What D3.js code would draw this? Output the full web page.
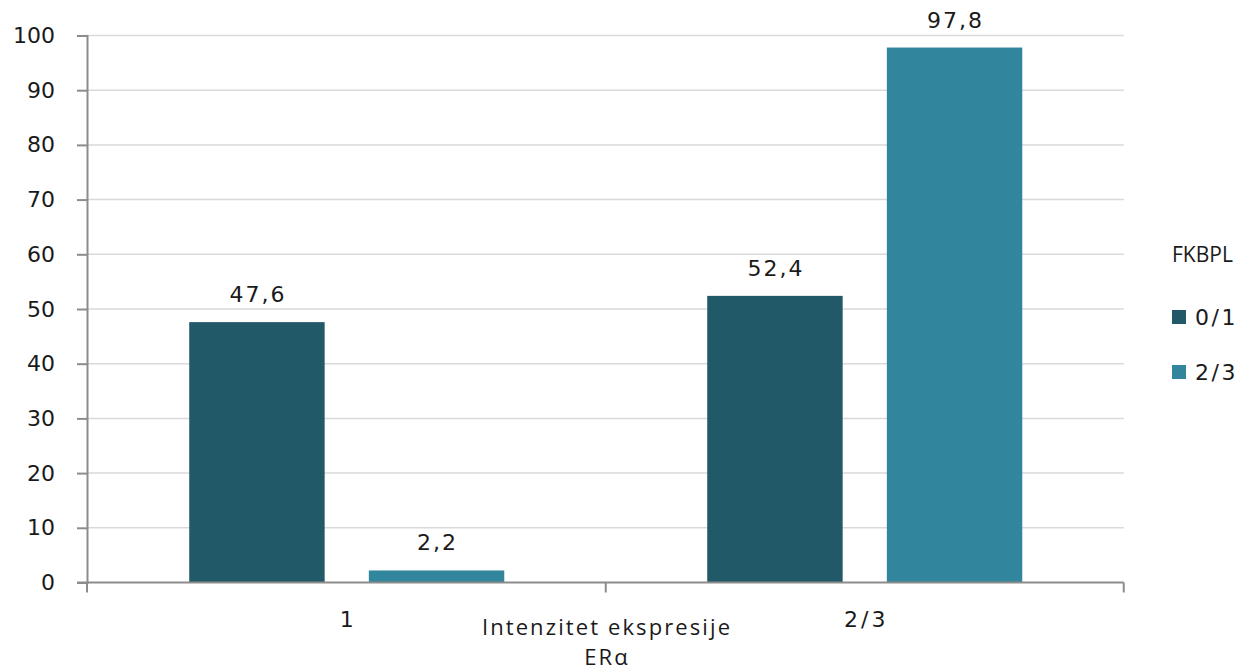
<!DOCTYPE html>
<html>
<head>
<meta charset="utf-8">
<script src="https://cdn.jsdelivr.net/npm/d3@7"></script>
<style>
  html, body { margin: 0; padding: 0; background: #fff; }
  svg text { fill: #1a1a1a; }
</style>
</head>
<body>
<svg id="chart" width="1250" height="670"></svg>
<script>
// Share of FKBPL expression groups by ERα expression intensity (%)
const categories = ["1", "2/3"];
const seriesNames = ["0/1", "2/3"];
const series01 = [47.6, 52.4];
const series23 = [2.2, 97.8];
const yTicks = [0, 10, 20, 30, 40, 50, 60, 70, 80, 90, 100];
const colors = ["#225968", "#31859c"];
const axisTitle = ["Intenzitet ekspresije", "ERα"];
const legendTitle = "FKBPL";

const seriesValues = [series01, series23];

const svg = d3.select("#chart");
const axisX = 87, plotLeft = 87.75, plotRight = 1123.75, plotTop = 35.5, plotBottom = 582.5;

const y = d3.scaleLinear().domain([0, 100]).range([plotBottom, plotTop]);
const x0 = d3.scaleBand().domain(categories).range([plotLeft, plotRight]).paddingInner(0).paddingOuter(0);
const x1 = d3.scaleBand().domain(seriesNames).range([0, x0.bandwidth()])
  .paddingInner(0.246).paddingOuter(0.565);

const numFont = "'DejaVu Sans', sans-serif";
const textFont = "'Open Sans', sans-serif";

// horizontal gridlines
svg.append("g")
  .selectAll("line")
  .data(yTicks.filter(d => d > 0))
  .join("line")
  .attr("x1", axisX).attr("x2", plotRight)
  .attr("y1", d => y(d)).attr("y2", d => y(d))
  .attr("stroke", "#d9d9d9").attr("stroke-width", 1.5);

// y axis
const yAxis = svg.append("g")
  .attr("transform", `translate(${axisX},0)`)
  .call(d3.axisLeft(y).tickValues(yTicks).tickSize(10).tickPadding(22).tickFormat(d3.format("d")));
yAxis.select(".domain").attr("stroke", "#8c8c8c").attr("stroke-width", 2);
yAxis.selectAll(".tick line").attr("stroke", "#8c8c8c").attr("stroke-width", 2);
yAxis.selectAll(".tick text")
  .attr("font-family", numFont).attr("font-size", 22).style("fill", "#1a1a1a");

// bars
const groups = svg.append("g")
  .selectAll("g")
  .data(categories)
  .join("g")
  .attr("transform", d => `translate(${x0(d)},0)`);

const barData = (cat, i) => seriesNames.map((s, j) => ({ s, j, v: seriesValues[j][i] }));

groups.selectAll("rect")
  .data(barData)
  .join("rect")
  .attr("x", d => x1(d.s))
  .attr("width", x1.bandwidth())
  .attr("y", d => y(d.v))
  .attr("height", d => y(0) - y(d.v))
  .attr("fill", d => colors[d.j]);

groups.selectAll("text")
  .data(barData)
  .join("text")
  .attr("x", d => x1(d.s) + x1.bandwidth() / 2 + 1)
  .attr("y", d => y(d.v) - 20)
  .attr("text-anchor", "middle")
  .attr("font-family", numFont).attr("font-size", 22)
  .attr("letter-spacing", 2)
  .text(d => d3.format(".1f")(d.v).replace(".", ","));

// x axis with category-boundary ticks
const xAxis = svg.append("g");
xAxis.append("line")
  .attr("x1", axisX - 10).attr("x2", plotRight)
  .attr("y1", plotBottom).attr("y2", plotBottom)
  .attr("stroke", "#8c8c8c").attr("stroke-width", 2);
const bounds = [axisX, x0(categories[1]), x0(categories[1]) + x0.bandwidth()];
xAxis.selectAll("line.b")
  .data(bounds)
  .join("line")
  .attr("class", "b")
  .attr("x1", d => d).attr("x2", d => d)
  .attr("y1", plotBottom).attr("y2", plotBottom + 10)
  .attr("stroke", "#8c8c8c").attr("stroke-width", 2);
xAxis.selectAll("text")
  .data(categories)
  .join("text")
  .attr("x", d => x0(d) + x0.bandwidth() / 2 + 1.5)
  .attr("y", 627)
  .attr("text-anchor", "middle")
  .attr("font-family", numFont).attr("font-size", 22)
  .attr("letter-spacing", 3)
  .text(d => d);

// axis title
svg.append("text")
  .attr("x", 607).attr("y", 635)
  .attr("text-anchor", "middle")
  .attr("font-family", textFont).attr("font-size", 22)
  .attr("letter-spacing", 2.1)
  .selectAll("tspan")
  .data(axisTitle)
  .join("tspan")
  .attr("x", 607)
  .attr("dy", (d, i) => i === 0 ? 0 : 30)
  .text(d => d);

// legend
const legend = svg.append("g").attr("transform", "translate(1172,0)");
legend.append("text")
  .attr("x", 0).attr("y", 262)
  .attr("font-family", textFont).attr("font-size", 21)
  .text(legendTitle);
const items = legend.selectAll("g.item")
  .data(seriesNames)
  .join("g")
  .attr("class", "item")
  .attr("transform", (d, i) => `translate(0,${310 + i * 55})`);
items.append("rect")
  .attr("width", 14).attr("height", 14)
  .attr("fill", (d, i) => colors[i]);
items.append("text")
  .attr("x", 23).attr("y", 15)
  .attr("font-family", numFont).attr("font-size", 22)
  .attr("letter-spacing", 2.5)
  .text(d => d);
</script>
</body>
</html>
